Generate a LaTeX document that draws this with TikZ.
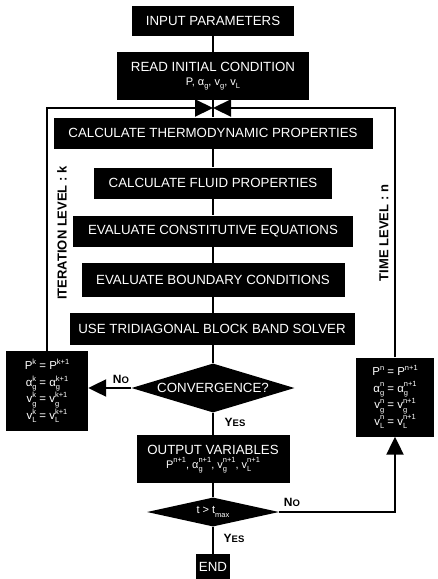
\documentclass[tikz,border=0pt]{standalone}
\usepackage{fontspec}
\setmainfont{Liberation Sans}
\usetikzlibrary{arrows.meta,shapes.geometric}
\newcommand\gsx[3]{#1\rlap{\raisebox{-3.6pt}{\fontsize{7.5}{8}\selectfont #2}}\raisebox{5.2pt}{\fontsize{7.5}{8}\selectfont #3}}
\newcommand\gsup[2]{#1\raisebox{5.2pt}{\fontsize{7.5}{8}\selectfont #2}}
\newcommand\gsub[2]{#1\raisebox{-3.6pt}{\fontsize{7.5}{8}\selectfont #2}}
\tikzset{
  blk/.style={fill=black, text=white, inner sep=0pt, align=center,
    font=\fontsize{13.3}{15}\selectfont},
  dia/.style={diamond, fill=black, text=white, inner sep=0pt, align=center,
    font=\fontsize{13.3}{15}\selectfont},
  frm/.style={fill=black, text=white, inner sep=0pt, align=center,
    font=\fontsize{11.5}{16.5}\selectfont},
  conn/.style={line width=2.2pt},
  arr/.style={conn, -{Triangle[length=18pt,width=17pt]}},
  lbl/.style={font=\fontsize{12}{14}\selectfont\bfseries},
  side/.style={rotate=90, font=\fontsize{13}{15}\selectfont\bfseries}
}
\begin{document}
\begin{tikzpicture}[x=1pt,y=-1pt]
\useasboundingbox (0,0) rectangle (438,579);
\node[blk, minimum width=162pt, minimum height=30pt] (inp) at (213,21) {INPUT PARAMETERS};
\node[blk, minimum width=192pt, minimum height=48pt] (read) at (213,76)
  {READ INITIAL CONDITION\\[-1pt]{\fontsize{11}{12}\selectfont \gsub{P,}{}\ \gsub{α}{g},\ \gsub{v}{g},\ \gsub{v}{L}}};
\coordinate (jn) at (213,108);
\node[blk, minimum width=319pt, minimum height=31pt] (thermo) at (213,133) {CALCULATE THERMODYNAMIC PROPERTIES};
\node[blk, minimum width=238pt, minimum height=31pt] (fluid) at (213,183) {CALCULATE FLUID PROPERTIES};
\node[blk, minimum width=280pt, minimum height=31pt] (const) at (213,231) {EVALUATE CONSTITUTIVE EQUATIONS};
\node[blk, minimum width=263pt, minimum height=34pt] (bound) at (213,280) {EVALUATE BOUNDARY CONDITIONS};
\node[blk, minimum width=285pt, minimum height=32pt] (solver) at (212,329) {USE TRIDIAGONAL BLOCK BAND SOLVER};
\node[dia, shape aspect=3.3, minimum width=163pt, minimum height=49pt] (conv) at (213,388) {CONVERGENCE?};
\node[blk, minimum width=153pt, minimum height=48pt] (out) at (213,459)
  {OUTPUT VARIABLES\\[-1pt]{\fontsize{11}{12}\selectfont \gsup{P}{n+1},\ \gsx{α}{g}{n+1},\ \gsx{v}{g}{n+1},\ \gsx{v}{L}{n+1}}};
\node[dia, shape aspect=4.5, minimum width=132pt, minimum height=29pt, font=\fontsize{11}{13}\selectfont] (tmax) at (213,512)
  {t > \gsub{t}{max}};
\node[blk, minimum width=34pt, minimum height=26pt] (end) at (213,567) {END};
\node[frm, minimum width=82pt, minimum height=80pt] (kbox) at (47,391)
  {\gsup{P}{k} = \gsup{P}{k+1}\\
   \gsx{α}{g}{k} = \gsx{α}{g}{k+1}\\
   \gsx{v}{g}{k} = \gsx{v}{g}{k+1}\\
   \gsx{v}{L}{k} = \gsx{v}{L}{k+1}};
\node[frm, minimum width=78pt, minimum height=79pt] (nbox) at (395,397)
  {\gsup{P}{n} = \gsup{P}{n+1}\\
   \gsx{α}{g}{n} = \gsx{α}{g}{n+1}\\
   \gsx{v}{g}{n} = \gsx{v}{g}{n+1}\\
   \gsx{v}{L}{n} = \gsx{v}{L}{n+1}};
% spine
\draw[conn] (inp) -- (read);
\draw[conn] (read) -- (thermo);
\draw[conn] (thermo) -- (fluid);
\draw[conn] (fluid) -- (const);
\draw[conn] (const) -- (bound);
\draw[conn] (bound) -- (bound |- solver.north);
\draw[conn] (solver.south -| conv) -- (conv);
\draw[conn] (conv) -- (out);
\draw[conn] (out) -- (tmax);
\draw[conn] (tmax) -- (end);
% loops
\draw[arr] (conv.west) -- (conv.west -| kbox.east);
\draw[arr] (kbox.north) |- (jn);
\draw[arr] (nbox.north) |- (jn);
\draw[arr] (tmax.east) -| (nbox.south);
% labels
\node[lbl] (no1) at (121,379) {N{\fontsize{9.5}{10}\selectfont O}};
\node[lbl] (yes1) at (235,422) {Y{\fontsize{9.5}{10}\selectfont ES}};
\node[lbl] (no2) at (292,502) {N{\fontsize{9.5}{10}\selectfont O}};
\node[lbl] (yes2) at (234,538) {Y{\fontsize{9.5}{10}\selectfont ES}};
\node[side] (itl) at (62,233) {ITERATION LEVEL : k};
\node[side] (tl) at (384,233) {TIME LEVEL : n};
\end{tikzpicture}
\end{document}
